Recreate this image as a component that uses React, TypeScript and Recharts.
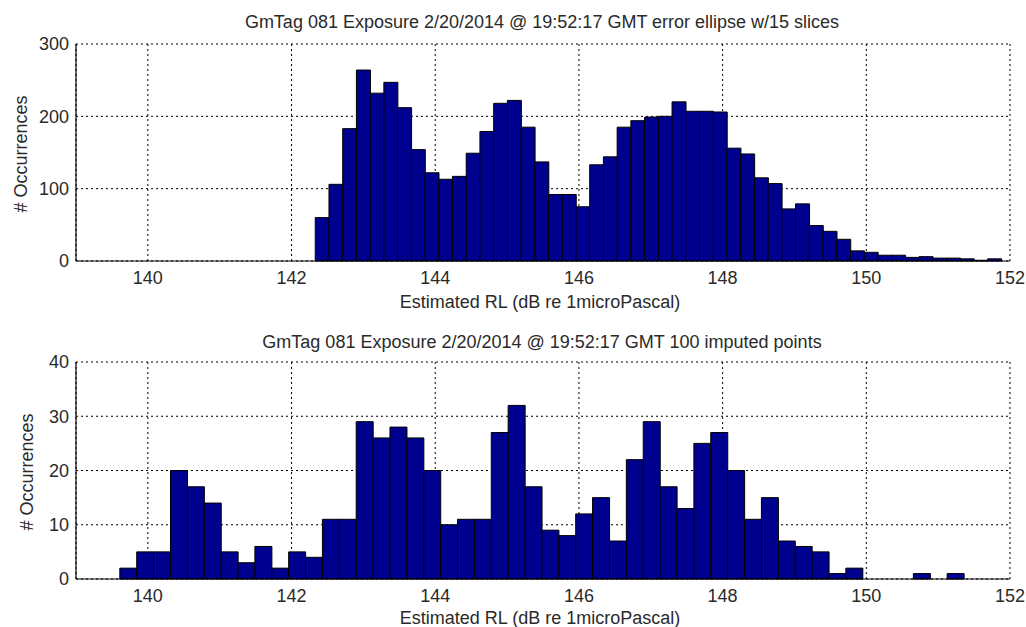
import { Bar, BarChart, CartesianGrid, XAxis, YAxis } from 'recharts';
import type { CSSProperties } from 'react';

// histogram counts (50 bins each)
const topCounts = [
  60, 106, 183, 264, 232, 247, 212, 154, 122, 113,
  117, 149, 179, 218, 222, 185, 137, 92, 92, 75,
  133, 144, 185, 194, 199, 200, 220, 207, 207, 206,
  156, 148, 115, 107, 72, 79, 49, 41, 30, 14,
  12, 8, 8, 5, 6, 4, 4, 3, 1, 3,
];
const bottomCounts = [
  2, 5, 5, 20, 17, 14, 5, 3, 6, 2,
  5, 4, 11, 11, 29, 26, 28, 26, 20, 10,
  11, 11, 27, 32, 17, 9, 8, 12, 15, 7,
  22, 29, 17, 13, 25, 27, 20, 11, 15, 7,
  6, 5, 1, 2, 0, 0, 0, 1, 0, 1,
];

// bin layout (left edge of first bin, bin width) in dB
const TOP_BIN_START = 142.33;
const TOP_BIN_WIDTH = 0.191;
const BOTTOM_BIN_START = 139.61;
const BOTTOM_BIN_WIDTH = 0.235;

const xTicks = [140, 142, 144, 146, 148, 150, 152];
const topYTicks = [0, 100, 200, 300];
const bottomYTicks = [0, 10, 20, 30, 40];

const TITLE_TOP = 'GmTag 081 Exposure 2/20/2014 @ 19:52:17 GMT error ellipse w/15 slices';
const TITLE_BOTTOM = 'GmTag 081 Exposure 2/20/2014 @ 19:52:17 GMT 100 imputed points';
const X_LABEL = 'Estimated RL (dB re 1microPascal)';
const Y_LABEL = '# Occurrences';

const FONT = 'Arial, "Liberation Sans", sans-serif';
const FS = 18;
const TEXT = '#2a2a2a';
const BAR_FILL = '#00008F';

type Row = { x: number; n: number };

function toRows(counts: number[], start: number, width: number): Row[] {
  return counts.map((n, i) => ({ x: start + width * (i + 0.5), n }));
}

function centered(x: number, y: number, extra?: CSSProperties): CSSProperties {
  return {
    position: 'absolute',
    left: x,
    top: y,
    transform: 'translate(-50%, -50%)',
    whiteSpace: 'nowrap',
    fontSize: FS,
    lineHeight: 1,
    color: TEXT,
    fontFamily: FONT,
    ...extra,
  };
}

function Hist({
  rows,
  yMax,
  yTicks,
  height,
  marginTop,
  marginBottom,
}: {
  rows: Row[];
  yMax: number;
  yTicks: number[];
  height: number;
  marginTop: number;
  marginBottom: number;
}) {
  const tick = { fontSize: FS, fill: TEXT, fontFamily: FONT };
  return (
    <BarChart
      width={1026}
      height={height}
      data={rows}
      margin={{ top: marginTop, right: 16, left: 16, bottom: marginBottom }}
      barCategoryGap={0}
      barGap={0}
    >
      <CartesianGrid stroke="#000" strokeDasharray="2 3" strokeWidth={1} />
      <XAxis
        type="number"
        dataKey="x"
        domain={[139, 152]}
        ticks={xTicks}
        allowDataOverflow
        height={30}
        tickLine={false}
        tickSize={7}
        tickMargin={3}
        tick={tick}
        axisLine={{ stroke: '#000', strokeWidth: 1.2 }}
      />
      <XAxis
        xAxisId="top"
        orientation="top"
        type="number"
        domain={[139, 152]}
        height={0}
        tick={false}
        tickLine={false}
        axisLine={{ stroke: '#000', strokeWidth: 1.2 }}
      />
      <YAxis
        type="number"
        domain={[0, yMax]}
        ticks={yTicks}
        width={60}
        tickLine={false}
        tickSize={5}
        tickMargin={2}
        tick={tick}
        axisLine={{ stroke: '#000', strokeWidth: 1.2 }}
      />
      <YAxis
        yAxisId="right"
        orientation="right"
        type="number"
        domain={[0, yMax]}
        width={0}
        tick={false}
        tickLine={false}
        axisLine={{ stroke: '#000', strokeWidth: 1.2 }}
      />
      <Bar dataKey="n" fill={BAR_FILL} stroke="#000" strokeWidth={1} isAnimationActive={false} />
    </BarChart>
  );
}

export default function App() {
  const topRows = toRows(topCounts, TOP_BIN_START, TOP_BIN_WIDTH);
  const bottomRows = toRows(bottomCounts, BOTTOM_BIN_START, BOTTOM_BIN_WIDTH);
  return (
    <div
      style={{
        position: 'absolute',
        left: 0,
        top: 0,
        width: 1026,
        height: 627,
        background: '#fff',
        overflow: 'hidden',
        fontFamily: FONT,
      }}
    >
      <div style={{ position: 'absolute', left: 0, top: 0 }}>
        <Hist rows={topRows} yMax={300} yTicks={topYTicks} height={320} marginTop={44} marginBottom={29} />
      </div>
      <div style={{ position: 'absolute', left: 0, top: 320 }}>
        <Hist rows={bottomRows} yMax={40} yTicks={bottomYTicks} height={307} marginTop={42} marginBottom={18} />
      </div>

      <div style={centered(542, 22)}>{TITLE_TOP}</div>
      <div style={centered(540, 302)}>{X_LABEL}</div>
      <div style={centered(21, 154, { transform: 'translate(-50%, -50%) rotate(-90deg)' })}>{Y_LABEL}</div>

      <div style={centered(542, 342)}>{TITLE_BOTTOM}</div>
      <div style={centered(540, 618)}>{X_LABEL}</div>
      <div style={centered(27, 472, { transform: 'translate(-50%, -50%) rotate(-90deg)' })}>{Y_LABEL}</div>
    </div>
  );
}
